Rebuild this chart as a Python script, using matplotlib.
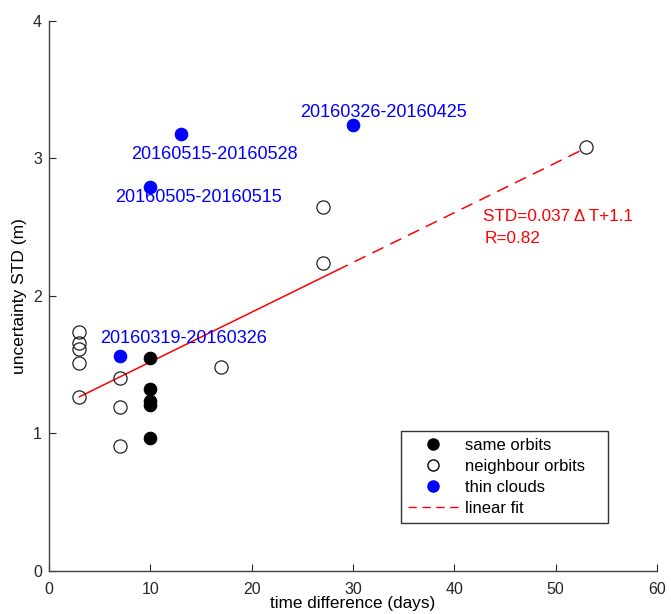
import matplotlib
matplotlib.use("Agg")
import matplotlib.pyplot as plt
from matplotlib.lines import Line2D
import numpy as np

plt.rcParams['font.family'] = ['Liberation Sans', 'DejaVu Sans']

# data
same_x = [10, 10, 10, 10, 10]
same_y = [1.549, 1.324, 1.236, 1.207, 0.967]
neigh_x = [3, 3, 3, 3, 3, 7, 7, 7, 17, 27, 27, 53]
neigh_y = [1.738, 1.658, 1.615, 1.513, 1.265, 1.404, 1.193, 0.909, 1.484, 2.647, 2.240, 3.084]
cloud_x = [7, 10, 13, 30]
cloud_y = [1.564, 2.793, 3.178, 3.244]
cloud_labels = ["20160319-20160326", "20160505-20160515", "20160515-20160528", "20160326-20160425"]
label_pos = [(5.03, 1.692), (6.5, 2.715), (8.1, 3.028), (24.8, 3.336)]
fit_slope = 0.0362
fit_intercept = 1.1565
fit_range = [3, 53]
fit_solid_end = 28.4

fig = plt.figure(figsize=(6.71, 6.14), dpi=100)
ax = fig.add_axes([0.073, 0.0705, 0.906, 0.8955])

ax.plot(same_x, same_y, 'o', ms=9, mfc='black', mec='black', mew=0.8, zorder=3)
ax.plot(neigh_x, neigh_y, 'o', ms=9.5, mfc='none', mec='#222222', mew=0.9, zorder=3)
ax.plot(cloud_x, cloud_y, 'o', ms=9, mfc='blue', mec='blue', mew=0.8, zorder=3)

xs1 = np.array([fit_range[0], fit_solid_end])
xs2 = np.array([fit_solid_end, fit_range[1]])
ax.plot(xs1, fit_slope * xs1 + fit_intercept, '-', color='red', lw=1.1, zorder=2)
ax.plot(xs2, fit_slope * xs2 + fit_intercept, color='red', lw=1.1, dashes=(8, 5), zorder=2)

for lab, (lx, ly) in zip(cloud_labels, label_pos):
    ax.text(lx, ly, lab, color='blue', fontsize=13, ha='left', va='center')

ax.text(42.8, 2.575, "STD=0.037 \u0394 T+1.1", color='red', fontsize=12.3, ha='left', va='center')
ax.text(43.0, 2.42, "R=0.82", color='red', fontsize=12.3, ha='left', va='center')

ax.set_xlim(0, 60)
ax.set_ylim(0, 4)
ax.set_xticks([0, 10, 20, 30, 40, 50, 60])
ax.set_yticks([0, 1, 2, 3, 4])
ax.tick_params(direction='in', length=5, width=0.8, labelsize=11.5, colors='#262626')
ax.tick_params(axis='x', pad=8)
ax.tick_params(axis='y', pad=5)
for s in ['top', 'right']:
    ax.spines[s].set_visible(False)
for s in ['left', 'bottom']:
    ax.spines[s].set_color('#404040')
    ax.spines[s].set_linewidth(1.0)

ax.set_xlabel("time difference (days)", fontsize=12.3, va='center')
ax.xaxis.set_label_coords(0.5, -0.0605)
ax.set_ylabel("uncertainty STD (m)", fontsize=12.5, va='center')
ax.yaxis.set_label_coords(-0.048, 0.5)

handles = [
    Line2D([], [], ls='none', marker='o', ms=8, mfc='black', mec='black'),
    Line2D([], [], ls='none', marker='o', ms=8, mfc='none', mec='black'),
    Line2D([], [], ls='none', marker='o', ms=8, mfc='blue', mec='blue'),
    Line2D([], [], color='red', lw=1.0, dashes=(6, 4)),
]
leg = ax.legend(handles, ["same orbits", "neighbour orbits", "thin clouds", "linear fit"],
                loc='upper left', bbox_to_anchor=(0.579, 0.0885, 0.340, 0.1655),
                mode='expand', borderaxespad=0, fontsize=12,
                frameon=True, fancybox=False, edgecolor='black', handlelength=3.05,
                labelspacing=0.35, borderpad=0.42, handletextpad=0.36)
leg.get_frame().set_linewidth(1.0)

fig.savefig("out.png", dpi=100)
